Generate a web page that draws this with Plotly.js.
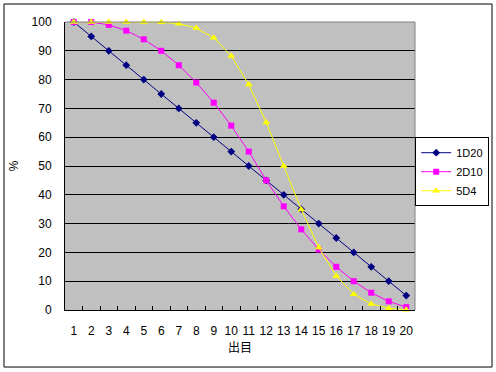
<!DOCTYPE html>
<html>
<head>
<meta charset="utf-8">
<script src="https://cdn.plot.ly/plotly-3.0.1.min.js"></script>
<style>html,body{margin:0;padding:0;background:#fff;}#chart{width:496px;height:372px;}</style>
</head>
<body>
<div id="chart"></div>
<script>
var categories = [1,2,3,4,5,6,7,8,9,10,11,12,13,14,15,16,17,18,19,20];
var tickLabels = ["1","2","3","4","5","6","7","8","9","10","11","12","13","14","15","16","17","18","19","20"];
var seriesNames = ["1D20","2D10","5D4"];
var d1D20 = [100,95,90,85,80,75,70,65,60,55,50,45,40,35,30,25,20,15,10,5];
var d2D10 = [100,100,99,97,94,90,85,79,72,64,55,45,36,28,21,15,10,6,3,1];
var d5D4  = [100,100,100,100,100,99.9,99.4,97.9,94.5,88.2,78.3,65.1,50,34.9,21.7,11.8,5.5,2.1,0.6,0.1];
var tickBounds = [1.5,2.5,3.5,4.5,5.5,6.5,7.5,8.5,9.5,10.5,11.5,12.5,13.5,14.5,15.5,16.5,17.5,18.5,19.5];

var fontFam = '"Liberation Sans", Arial, "Noto Sans CJK JP", sans-serif';

var traces = [
  {x: categories, y: d1D20, name: seriesNames[0], type: 'scatter', mode: 'lines+markers',
   line: {color: '#000080', width: 1}, marker: {symbol: 'diamond', size: 6, color: '#000080'}, cliponaxis: false},
  {x: categories, y: d2D10, name: seriesNames[1], type: 'scatter', mode: 'lines+markers',
   line: {color: '#FF00FF', width: 1}, marker: {symbol: 'square', size: 6, color: '#FF00FF'}, cliponaxis: false},
  {x: categories, y: d5D4, name: seriesNames[2], type: 'scatter', mode: 'lines+markers',
   line: {color: '#FFFF00', width: 1}, marker: {symbol: 'triangle-up', size: 7, color: '#FFFF00'}, cliponaxis: false},
  {x: tickBounds, y: tickBounds.map(function(){return null;}), xaxis: 'x2', showlegend: false, hoverinfo: 'skip', type: 'scatter', mode: 'lines'}
];

var layout = {
  width: 496, height: 372,
  margin: {l: 65, r: 81, t: 22, b: 62, pad: 0, autoexpand: false},
  paper_bgcolor: '#FFFFFF',
  plot_bgcolor: '#C0C0C0',
  font: {family: fontFam, size: 12, color: '#000'},
  showlegend: true,
  legend: {x: 1.212, xanchor: 'right', y: 0.6, yanchor: 'top', bgcolor: '#FFFFFF',
           bordercolor: '#000', borderwidth: 1, font: {family: fontFam, size: 11, color: '#000'},
           itemwidth: 30, tracegroupgap: 0},
  xaxis: {range: [0.5, 20.5], tickmode: 'array', tickvals: categories, ticktext: tickLabels,
          ticks: '', showgrid: false, zeroline: false, showline: true, linecolor: '#000', linewidth: 1,
          ticklabelstandoff: 10, fixedrange: true,
          title: {text: '出目', font: {family: '"Noto Sans CJK JP", sans-serif', size: 12}, standoff: 6}},
  xaxis2: {overlaying: 'x', anchor: 'y', side: 'bottom', range: [0.5, 20.5], tickmode: 'array', tickvals: tickBounds,
           ticks: 'inside', ticklen: 4, tickcolor: '#000', tickwidth: 1, showticklabels: false,
           showgrid: false, zeroline: false, showline: false},
  yaxis: {range: [0, 100], tickmode: 'linear', tick0: 0, dtick: 10, ticks: '',
          showgrid: true, gridcolor: '#000', gridwidth: 1, zeroline: false,
          showline: true, linecolor: '#000', linewidth: 1, ticklabelstandoff: 10,
          title: {text: '%', font: {family: fontFam, size: 12}, standoff: 10}},
  shapes: [
    {type: 'line', xref: 'paper', yref: 'paper', x0: 0, x1: 1, y0: 1, y1: 1, line: {color: '#808080', width: 1}, layer: 'above'},
    {type: 'line', xref: 'paper', yref: 'paper', x0: 1, x1: 1, y0: 0, y1: 1, line: {color: '#808080', width: 1}, layer: 'above'},
    {type: 'rect', xref: 'paper', yref: 'paper', x0: -0.1743, x1: 1.22, y0: -0.198, y1: 1.0625, line: {color: '#000', width: 1}, layer: 'above'}
  ]
};

Plotly.newPlot('chart', traces, layout, {staticPlot: true, displayModeBar: false});
</script>
</body>
</html>
